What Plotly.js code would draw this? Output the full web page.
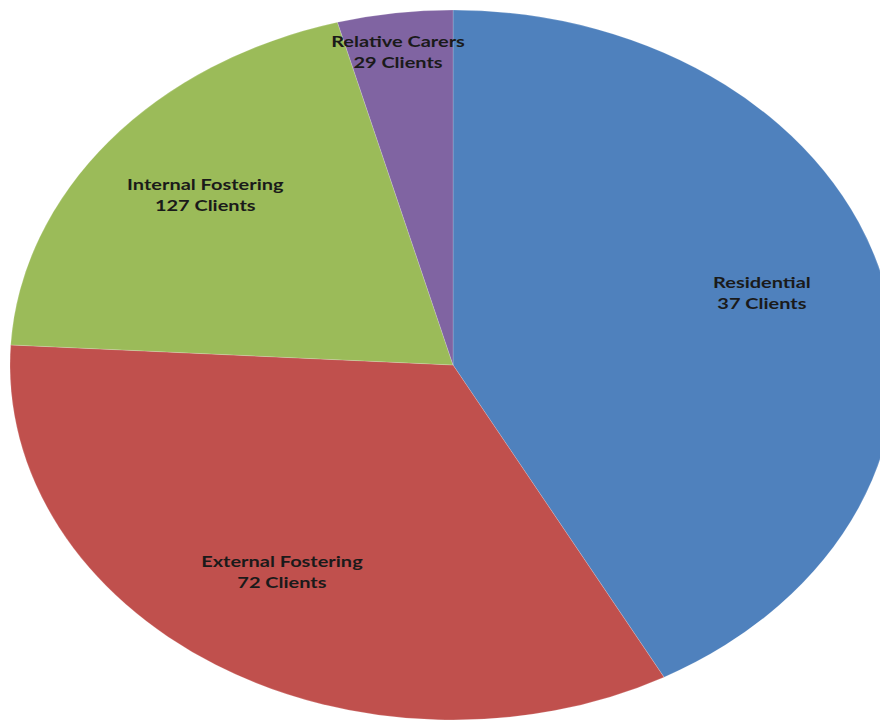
<!DOCTYPE html>
<html>
<head>
<meta charset="utf-8">
<script src="https://cdn.plot.ly/plotly-3.0.1.min.js"></script>
<style>
html,body{margin:0;padding:0;background:#fff;overflow:hidden;width:880px;height:721px;}
#wrap{position:absolute;left:10px;top:0;width:710px;height:721px;transform:scaleX(1.248);transform-origin:0 0;}
#chart{width:710px;height:721px;}
</style>
</head>
<body>
<div id="wrap"><div id="chart"></div></div>
<script>
// Slice categories (clockwise from 12 o'clock)
var categories = ["Residential", "External Fostering", "Internal Fostering", "Relative Carers"];
// Slice shares estimated from the angles in the picture (percent)
var sliceValues = [42.1, 33.8, 19.9, 4.2];
// Client counts printed on the labels
var clientCounts = [37, 72, 127, 29];
var sliceColors = ["#4F81BD", "#C0504D", "#9BBB59", "#8064A2"];

var labelText = categories.map(function (c, i) {
  return c + "<br>" + clientCounts[i] + " Clients";
});

var font = { family: "Lato, 'Open Sans', sans-serif", size: 16, color: "#1a1a1a", weight: "bold" };
var clear = ["rgba(0,0,0,0)", "rgba(0,0,0,0)", "rgba(0,0,0,0)", "rgba(0,0,0,0)"];

var pieTrace = {
  type: "pie",
  labels: categories,
  values: sliceValues,
  textinfo: "none",
  hoverinfo: "label+value",
  sort: false,
  direction: "clockwise",
  rotation: 0,
  marker: { colors: sliceColors, line: { color: "rgba(255,255,255,0.3)", width: 0.5 } },
  showlegend: false
};

// transparent ring of the same slices, only used to place the big labels further out
var labelRing = {
  type: "pie",
  labels: categories,
  values: sliceValues,
  text: labelText,
  textinfo: "text",
  texttemplate: "%{text}",
  hoverinfo: "skip",
  hole: 0.48,
  domain: { x: [0, 1], y: [0.028, 1] },
  textposition: ["inside", "inside", "inside", "none"],
  insidetextorientation: "horizontal",
  sort: false,
  direction: "clockwise",
  rotation: 0,
  marker: { colors: clear, line: { width: 0 } },
  insidetextfont: font,
  showlegend: false
};

// smaller transparent copy whose outside label sits near the rim of the thin slice
var smallLabel = {
  type: "pie",
  labels: categories,
  values: sliceValues,
  text: labelText,
  textinfo: "text",
  texttemplate: "%{text}",
  hoverinfo: "skip",
  domain: { x: [0.18, 0.98], y: [0.118, 0.918] },
  textposition: ["none", "none", "none", "outside"],
  automargin: false,
  sort: false,
  direction: "clockwise",
  rotation: 0,
  marker: { colors: clear, line: { width: 0 } },
  outsidetextfont: font,
  showlegend: false
};

var layout = {
  width: 710,
  height: 721,
  margin: { l: 0, r: 0, t: 10, b: 1 },
  paper_bgcolor: "rgba(0,0,0,0)",
  showlegend: false
};

Plotly.newPlot("chart", [pieTrace, labelRing, smallLabel], layout, { displayModeBar: false, staticPlot: true });
</script>
</body>
</html>
